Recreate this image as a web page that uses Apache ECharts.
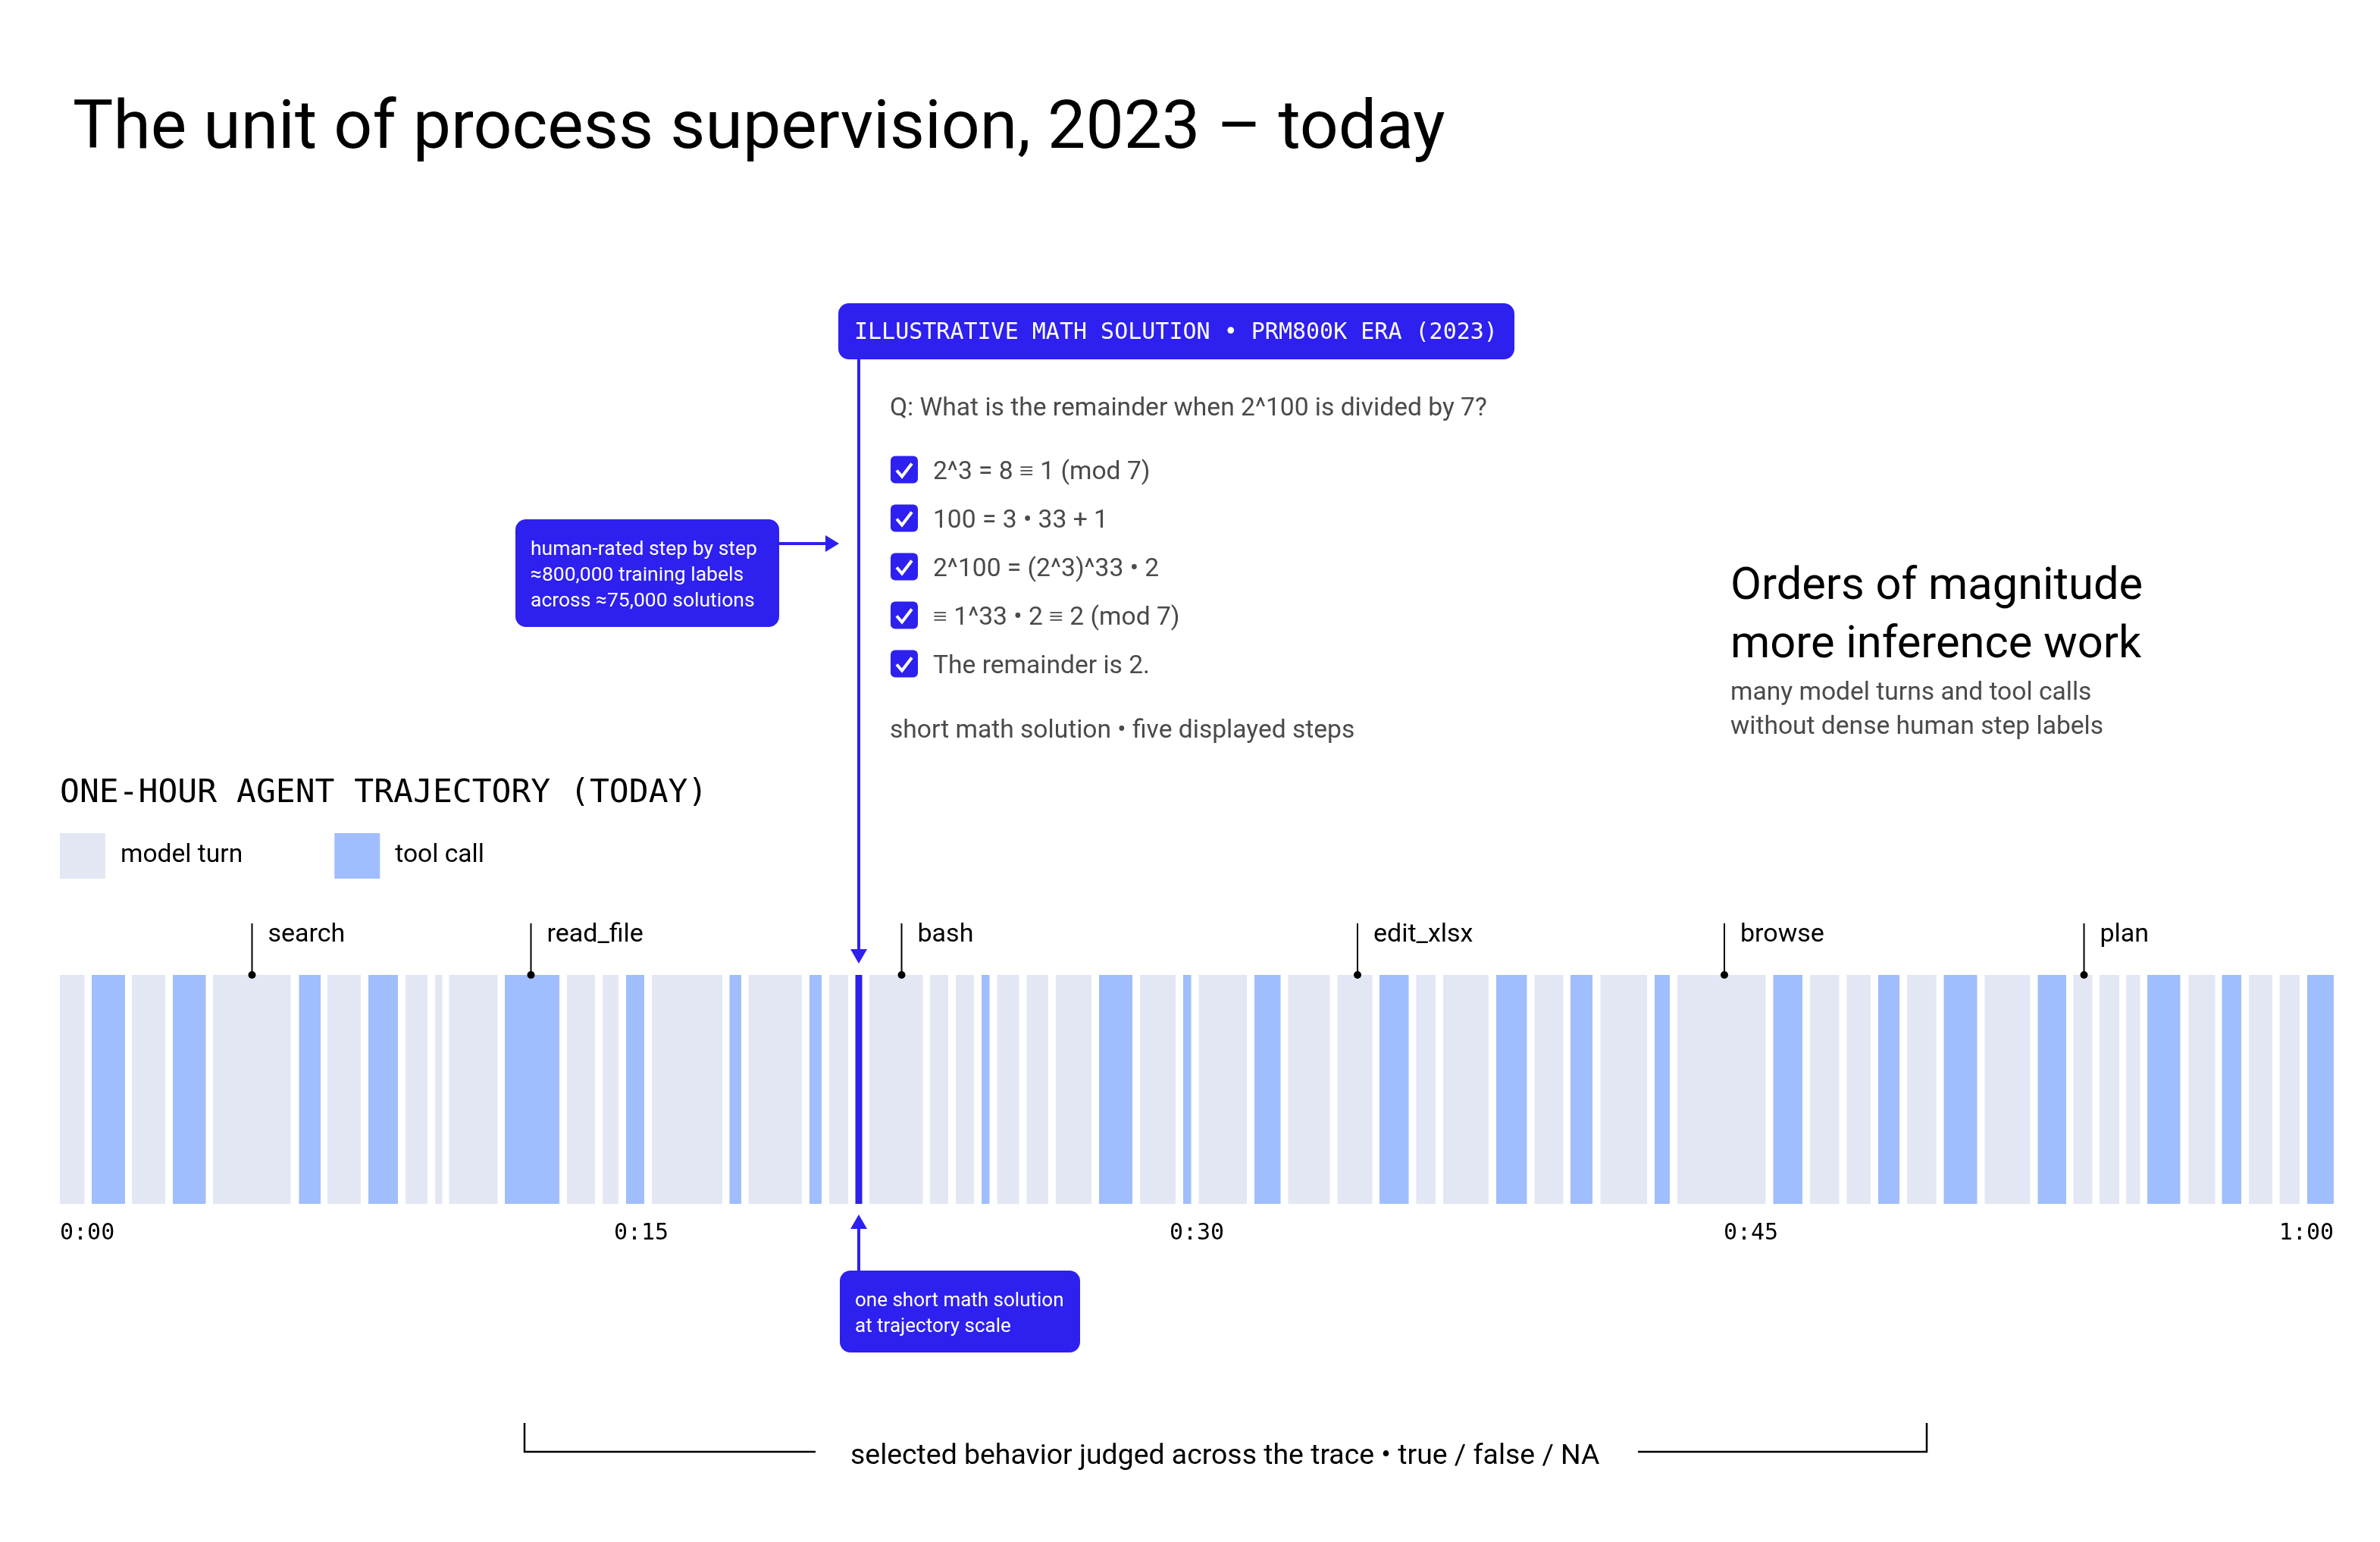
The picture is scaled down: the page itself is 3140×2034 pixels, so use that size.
<!DOCTYPE html>
<html>
<head>
<meta charset="utf-8">
<title>The unit of process supervision</title>
<style>
  html, body { margin: 0; padding: 0; background: #fff; }
  #chart { width: 3140px; height: 2034px; }
</style>
<script src="https://cdn.jsdelivr.net/npm/echarts@6/dist/echarts.min.js"></script>
</head>
<body>
<div id="chart"></div>
<script>
// trace segments, in minutes from the start of the hour
const modelTurns = [
  [0.00, 0.65], [1.90, 2.78], [4.04, 6.09], [7.06, 7.94], [9.12, 9.70], [9.90, 10.09], [10.27, 11.55],
  [13.38, 14.12], [14.32, 14.74], [15.62, 17.48], [18.17, 19.58], [20.30, 20.80], [21.36, 22.77],
  [22.96, 23.44], [23.64, 24.12], [24.73, 25.31], [25.51, 26.08], [26.28, 27.22], [28.50, 29.44],
  [30.05, 31.32], [32.41, 33.51], [33.71, 34.63], [35.79, 36.30], [36.50, 37.70], [38.91, 39.67],
  [40.65, 41.88], [42.68, 45.01], [46.18, 46.95], [47.15, 47.78], [48.74, 49.51], [50.79, 51.99],
  [53.13, 53.63], [53.82, 54.34], [54.52, 54.89], [56.17, 56.87], [57.76, 58.38], [58.57, 59.10]
];
const toolCalls = [
  [0.84, 1.72], [2.98, 3.85], [6.31, 6.88], [8.14, 8.92], [11.74, 13.18], [14.94, 15.42], [17.67, 17.98],
  [19.78, 20.10], [24.32, 24.53], [27.42, 28.30], [29.64, 29.85], [31.52, 32.21], [34.82, 35.59],
  [37.90, 38.71], [39.86, 40.44], [42.08, 42.48], [45.21, 45.98], [47.98, 48.54], [49.71, 50.59],
  [52.19, 52.94], [55.08, 55.95], [57.05, 57.56], [59.30, 60.00]
];
const mathSolution = [[20.99, 21.17]];
const toolNames = ['search', 'read_file', 'bash', 'edit_xlsx', 'browse', 'plan'];
const toolTimes = [5.07, 12.43, 22.21, 34.24, 43.92, 53.41];
const tickLabels = ['0:00', '0:15', '0:30', '0:45', '1:00'];
const tickPositions = [0, 15.34, 30, 44.62, 60]; // the labels are spread evenly, not on their exact minute
const mathSteps = ['2^3 = 8 ≡ 1 (mod 7)', '100 = 3 • 33 + 1', '2^100 = (2^3)^33 • 2', '≡ 1^33 • 2 ≡ 2 (mod 7)', 'The remainder is 2.'];

const SANS = 'Roboto';
const MONO = '"DejaVu Sans Mono"';
const INK = '#000000';
const GREY = '#4a4a4a';
const BLUE = '#2e20ee';
const LIGHT = '#e3e7f3';
const MID = '#a0bdfd';

const BAR_TOP = 1286;
const BAR_BOTTOM = 1588;

function text(x, y, str, size, color, font) {
  return {
    type: 'text', x: x, y: y, z: 20,
    style: { text: str, fontSize: size, fontFamily: font || SANS, fill: color || INK, textVerticalAlign: 'middle' }
  };
}

function box(x, y, w, h, r) {
  return { type: 'rect', z: 10, shape: { x: x, y: y, width: w, height: h, r: r }, style: { fill: BLUE } };
}

function path(points, width, color) {
  return { type: 'polyline', z: 10, shape: { points: points }, style: { stroke: color, lineWidth: width, fill: null } };
}

function segmentSeries(name, rows, color) {
  return {
    name: name,
    type: 'custom',
    coordinateSystem: 'cartesian2d',
    data: rows,
    encode: { x: [0, 1] },
    itemStyle: { color: color },
    silent: true,
    renderItem: function (params, api) {
      const a = api.coord([api.value(0), 1]);
      const b = api.coord([api.value(1), 0]);
      return { type: 'rect', shape: { x: a[0], y: a[1], width: b[0] - a[0], height: b[1] - a[1] }, style: { fill: color } };
    }
  };
}

// callout lines all run to the dark bar, so its arrows come from the same scale
function arrowSeries() {
  return {
    type: 'custom',
    coordinateSystem: 'cartesian2d',
    data: mathSolution.map(d => [(d[0] + d[1]) / 2]),
    encode: { x: 0 },
    silent: true,
    clip: false,
    z: 5,
    renderItem: function (params, api) {
      const x = api.coord([api.value(0), 0])[0];
      return {
        type: 'group',
        children: [
          { type: 'line', shape: { x1: x, y1: 474, x2: x, y2: 1254 }, style: { stroke: BLUE, lineWidth: 4 } },
          { type: 'polygon', shape: { points: [[x - 11, 1252], [x + 11, 1252], [x, 1271]] }, style: { fill: BLUE } },
          { type: 'line', shape: { x1: x, y1: 1619, x2: x, y2: 1677 }, style: { stroke: BLUE, lineWidth: 4 } },
          { type: 'polygon', shape: { points: [[x - 11, 1621], [x + 11, 1621], [x, 1602]] }, style: { fill: BLUE } }
        ]
      };
    }
  };
}

function toolSeries() {
  return {
    type: 'custom',
    coordinateSystem: 'cartesian2d',
    data: toolTimes.map((t, i) => [t, toolNames[i]]),
    encode: { x: 0 },
    silent: true,
    clip: false,
    z: 6,
    renderItem: function (params, api) {
      const x = api.coord([api.value(0), 0])[0];
      return {
        type: 'group',
        children: [
          { type: 'line', shape: { x1: x, y1: 1218, x2: x, y2: BAR_TOP }, style: { stroke: INK, lineWidth: 2 } },
          { type: 'circle', shape: { cx: x, cy: BAR_TOP, r: 5 }, style: { fill: INK } },
          {
            type: 'text', x: x + 21, y: 1233,
            style: { text: toolNames[params.dataIndex], fontSize: 34, fontFamily: SANS, fill: INK, textVerticalAlign: 'middle' }
          }
        ]
      };
    }
  };
}

const checkRows = [619.5, 683.5, 747.5, 811.5, 875.5];
const graphics = [
  box(1106, 400, 892, 74, 14),
  text(1127, 439, 'ILLUSTRATIVE MATH SOLUTION • PRM800K ERA (2023)', 30, '#ffffff', MONO),
  text(1174, 540, 'Q: What is the remainder when 2^100 is divided by 7?', 33.6, GREY),
  text(1174, 965, 'short math solution • five displayed steps', 33.6, GREY),

  box(680, 685, 348, 142, 14),
  text(700, 725, 'human-rated step by step', 26.5, '#ffffff'),
  text(700, 759, '≈800,000 training labels', 26.5, '#ffffff'),
  text(700, 793, 'across ≈75,000 solutions', 26.5, '#ffffff'),
  { type: 'line', z: 10, shape: { x1: 1028, y1: 717, x2: 1092, y2: 717 }, style: { stroke: BLUE, lineWidth: 4 } },
  { type: 'polygon', z: 10, shape: { points: [[1089, 706], [1089, 728], [1107, 717]] }, style: { fill: BLUE } },

  box(1108, 1676, 317, 108, 14),
  text(1128, 1716, 'one short math solution', 26, '#ffffff'),
  text(1128, 1750, 'at trajectory scale', 26, '#ffffff'),

  text(2283, 775, 'Orders of magnitude', 59.6),
  text(2283, 852, 'more inference work', 59.6),
  text(2283, 915, 'many model turns and tool calls', 33.6, GREY),
  text(2283, 960, 'without dense human step labels', 33.6, GREY),

  text(79, 1047, 'ONE-HOUR AGENT TRAJECTORY (TODAY)', 43, INK, MONO),

  path([[692, 1877], [692, 1915], [1076, 1915]], 2.5, INK),
  path([[2161, 1915], [2542, 1915], [2542, 1877]], 2.5, INK),
  text(1122, 1922, 'selected behavior judged across the trace • true / false / NA', 37.4)
];

mathSteps.forEach(function (step, i) {
  const cy = checkRows[i];
  graphics.push(box(1175, cy - 18, 36, 36, 6));
  graphics.push(path([[1183, cy + 1], [1190, cy + 9], [1203, cy - 8]], 4, '#ffffff'));
  graphics.push(text(1231, cy + 4, step, 33.6, GREY));
});

const chart = echarts.init(document.getElementById('chart'), null, { renderer: 'canvas', width: 3140, height: 2034 });

chart.setOption({
  backgroundColor: '#ffffff',
  animation: false,
  title: {
    text: 'The unit of process supervision, 2023 – today',
    left: 91, top: 123,
    textStyle: { fontFamily: SANS, fontSize: 89.5, fontWeight: 'normal', color: INK }
  },
  legend: {
    left: 74, top: 1094,
    itemWidth: 60, itemHeight: 60, itemGap: 121,
    icon: 'rect',
    data: ['model turn', 'tool call'],
    selectedMode: false,
    textStyle: { fontFamily: SANS, fontSize: 33.6, color: INK, padding: [4, 0, 0, 15] }
  },
  grid: { left: 79, top: BAR_TOP, width: 3000, height: BAR_BOTTOM - BAR_TOP },
  xAxis: {
    type: 'value', min: 0, max: 60,
    axisLine: { show: false }, axisTick: { show: false }, splitLine: { show: false },
    axisLabel: {
      customValues: tickPositions,
      formatter: (v, i) => tickLabels[tickPositions.indexOf(v)],
      alignMinLabel: 'left', alignMaxLabel: 'right',
      showMinLabel: true, showMaxLabel: true,
      margin: 24,
      fontFamily: MONO, fontSize: 30, color: INK
    }
  },
  yAxis: { type: 'value', min: 0, max: 1, show: false },
  graphic: { elements: graphics },
  series: [
    segmentSeries('model turn', modelTurns, LIGHT),
    segmentSeries('tool call', toolCalls, MID),
    segmentSeries('math solution', mathSolution, BLUE),
    arrowSeries(),
    toolSeries()
  ]
});
</script>
</body>
</html>
